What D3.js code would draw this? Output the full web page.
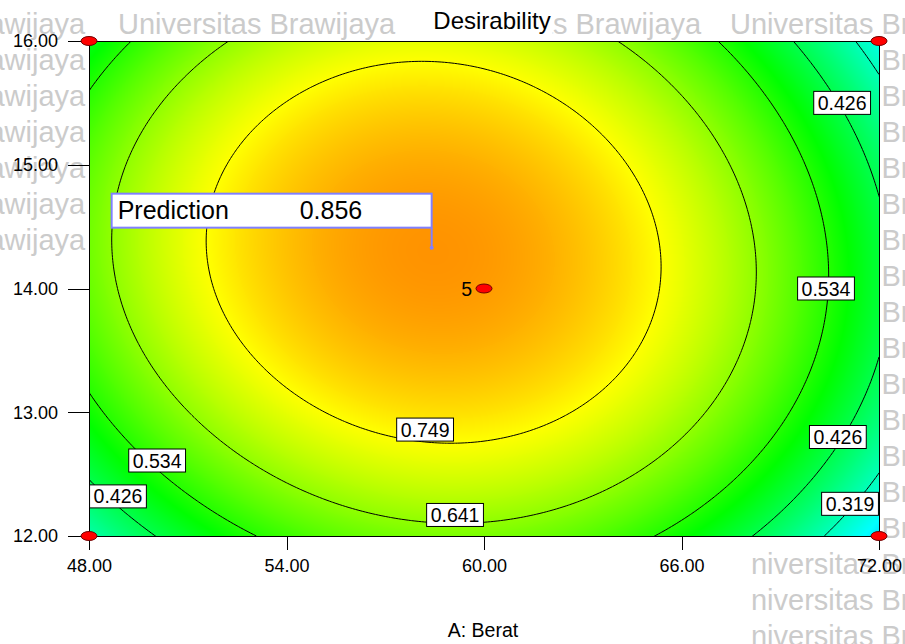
<!DOCTYPE html>
<html>
<head>
<meta charset="utf-8">
<script src="https://cdn.jsdelivr.net/npm/d3@7"></script>
<style>
  body { margin: 0; background: #ffffff; }
  #wrap { position: relative; width: 905px; height: 644px; overflow: hidden; }
  svg { position: absolute; left: 0; top: 0; }
</style>
</head>
<body>
<div id="wrap"></div>
<script>
// Overall desirability response surface, in coded factors
// A = (Berat - 60) / 12,  B = (factor B - 14) / 2
const modelTerms = ["1", "A", "B", "AB", "A2", "B2", "A2B2", "A3B", "AB3"];
const modelCoefs = [0.8474, -0.0776, 0.0487, -0.0388, -0.3234, -0.1798, -0.0188, 0.0083, 0.0083];

const contourLevels = [0.319, 0.426, 0.534, 0.641, 0.749];
const xTicks = [48, 54, 60, 66, 72];
const yTicks = [12, 13, 14, 15, 16];

// design points (Berat, B) and number of runs at each
const designX = [48, 48, 72, 72, 60];
const designY = [12, 16, 12, 16, 14];
const designRuns = [1, 1, 1, 1, 5];

// optimum flag
const predLabel = "Prediction";
const predX = 58.41, predY = 14.33, predValue = 0.856;

const titleText = "Desirability";
const xTitle = "A: Berat";
const watermarkText = "Universitas Brawijaya";

// where each contour label sits: [level index, Berat, B]
const labelSpots = [
  [1, 70.88, 15.50],
  [2, 70.39, 14.00],
  [1, 70.75, 12.80],
  [0, 71.12, 12.26],
  [2, 50.07, 12.61],
  [1, 48.88, 12.32],
  [4, 58.21, 12.86],
  [3, 59.12, 12.17]
];

const FONT = "'Liberation Sans', Arial, Helvetica, sans-serif";
const W = 905, H = 644;
const plot = { left: 89, top: 41, right: 879, bottom: 536 };

const xs = d3.scaleLinear().domain([48, 72]).range([plot.left, plot.right]);
const ys = d3.scaleLinear().domain([12, 16]).range([plot.bottom, plot.top]);
const color = d3.scaleLinear()
  .domain([0, 0.25, 0.5, 0.75, 1])
  .range(["#0000ff", "#00ffff", "#00ff00", "#ffff00", "#ff0000"])
  .clamp(true);

function desir(x, y) {
  const A = (x - 60) / 12, B = (y - 14) / 2;
  const basis = [1, A, B, A * B, A * A, B * B, A * A * B * B, A * A * A * B, A * B * B * B];
  let s = 0;
  for (let i = 0; i < basis.length; i++) s += basis[i] * modelCoefs[i];
  return s;
}

const svg = d3.select("#wrap").append("svg")
  .attr("width", W).attr("height", H)
  .style("font-family", FONT);

// ---- background watermark ----
const defs = svg.append("defs");
const wmClip = defs.append("clipPath").attr("id", "wmclip");
[[0, 0, W, 41], [0, 0, 89, 262], [879, 0, 26, H], [751, 545, 154, 99]].forEach(r => {
  wmClip.append("rect").attr("x", r[0]).attr("y", r[1]).attr("width", r[2]).attr("height", r[3]);
});
const wm = svg.append("g").attr("clip-path", "url(#wmclip)")
  .attr("fill", "#cbcbcb").attr("font-size", 29);
for (let row = 0; row < 18; row++) {
  for (let col = 0; col < 4; col++) {
    wm.append("text")
      .attr("x", (col === 0 ? -192 : -188) + col * 306)
      .attr("y", 34 + row * 36)
      .text(watermarkText);
  }
}

// ---- colour raster of the surface ----
const pw = plot.right - plot.left, ph = plot.bottom - plot.top;
const cv = document.createElement("canvas");
cv.width = pw; cv.height = ph;
const ctx = cv.getContext("2d");
const img = ctx.createImageData(pw, ph);
const lut = d3.range(1001).map(k => d3.rgb(color(k / 1000)));
for (let j = 0; j < ph; j++) {
  const yv = ys.invert(plot.top + j + 0.5);
  for (let i = 0; i < pw; i++) {
    const xv = xs.invert(plot.left + i + 0.5);
    const v = Math.max(0, Math.min(1, desir(xv, yv)));
    const c = lut[Math.round(v * 1000)];
    const o = (j * pw + i) * 4;
    img.data[o] = c.r; img.data[o + 1] = c.g; img.data[o + 2] = c.b; img.data[o + 3] = 255;
  }
}
ctx.putImageData(img, 0, 0);
svg.append("image")
  .attr("x", plot.left).attr("y", plot.top)
  .attr("width", pw).attr("height", ph)
  .attr("preserveAspectRatio", "none")
  .attr("href", cv.toDataURL());

// ---- contour lines ----
defs.append("clipPath").attr("id", "plotclip")
  .append("rect").attr("x", plot.left).attr("y", plot.top).attr("width", pw).attr("height", ph);

const nx = 241, ny = 161;
const vals = new Float64Array(nx * ny);
for (let j = 0; j < ny; j++) {
  for (let i = 0; i < nx; i++) {
    vals[j * nx + i] = desir(48 + i * 24 / (nx - 1), 12 + j * 4 / (ny - 1));
  }
}
const gx = c => 48 + (c - 0.5) * 24 / (nx - 1);
const gy = c => 12 + (c - 0.5) * 4 / (ny - 1);
const proj = d3.geoTransform({
  point(x, y) { this.stream.point(xs(gx(x)), ys(gy(y))); }
});
const contourPath = d3.geoPath(proj);
const contours = d3.contours().size([nx, ny]).thresholds(contourLevels)(vals);
svg.append("g").attr("clip-path", "url(#plotclip)")
  .selectAll("path").data(contours).join("path")
  .attr("d", contourPath)
  .attr("fill", "none")
  .attr("stroke", "#000")
  .attr("stroke-width", 1);

// ---- frame and axes ----
svg.append("rect")
  .attr("x", plot.left).attr("y", plot.top).attr("width", pw).attr("height", ph)
  .attr("fill", "none").attr("stroke", "#000").attr("stroke-width", 1)
  .attr("shape-rendering", "crispEdges");

const fmt = d3.format(".2f");
const yAxisG = svg.append("g").attr("transform", `translate(${plot.left},0)`)
  .call(d3.axisLeft(ys).tickValues(yTicks).tickFormat(fmt).tickSize(21).tickSizeOuter(0).tickPadding(10));
const xAxisG = svg.append("g").attr("transform", `translate(0,${plot.bottom})`)
  .call(d3.axisBottom(xs).tickValues(xTicks).tickFormat(fmt).tickSize(14).tickSizeOuter(0).tickPadding(9));
[yAxisG, xAxisG].forEach(g => {
  g.attr("font-family", FONT).attr("font-size", 18);
  g.selectAll("path.domain").attr("stroke", "#000").attr("shape-rendering", "crispEdges");
  g.selectAll(".tick line").attr("stroke", "#000").attr("shape-rendering", "crispEdges");
  g.selectAll(".tick text").attr("fill", "#000");
});

// ---- contour labels ----
const lab = svg.append("g").attr("font-size", 19.5);
labelSpots.forEach(([k, x, y]) => {
  const g = lab.append("g").attr("transform", `translate(${xs(x)},${ys(y)})`);
  const t = g.append("text")
    .attr("text-anchor", "middle").attr("y", 7).attr("fill", "#000")
    .text(contourLevels[k].toFixed(3));
  const w = t.node().getComputedTextLength();
  g.insert("rect", "text")
    .attr("x", -w / 2 - 4).attr("y", -11.5)
    .attr("width", w + 8).attr("height", 23)
    .attr("fill", "#fff").attr("stroke", "#000").attr("stroke-width", 1);
});

// ---- design points ----
const pts = svg.append("g");
designX.forEach((x, i) => {
  pts.append("ellipse")
    .attr("cx", xs(x)).attr("cy", ys(designY[i]))
    .attr("rx", 8).attr("ry", 4.5)
    .attr("fill", "#ff0000").attr("stroke", "#700000").attr("stroke-width", 1);
  if (designRuns[i] > 1) {
    pts.append("text")
      .attr("x", xs(x) - 12).attr("y", ys(designY[i]) + 7)
      .attr("text-anchor", "end").attr("font-size", 19.5).attr("fill", "#000")
      .text(designRuns[i]);
  }
});

// ---- prediction flag ----
const fx = xs(predX), fy = ys(predY);
const flag = svg.append("g");
flag.append("line")
  .attr("x1", fx).attr("x2", fx).attr("y1", fy - 20).attr("y2", fy)
  .attr("stroke", "#8080ff").attr("stroke-width", 2);
flag.append("circle").attr("cx", fx).attr("cy", fy).attr("r", 2).attr("fill", "#8080ff");
flag.append("rect")
  .attr("x", fx - 320).attr("y", fy - 54).attr("width", 320).attr("height", 34)
  .attr("fill", "#fff").attr("stroke", "#8080ff").attr("stroke-width", 2);
flag.append("text")
  .attr("x", fx - 314).attr("y", fy - 28.5).attr("font-size", 25).attr("fill", "#000")
  .text(predLabel);
flag.append("text")
  .attr("x", fx - 132).attr("y", fy - 28.5).attr("font-size", 25).attr("fill", "#000")
  .text(predValue.toFixed(3));

// ---- titles ----
const titleG = svg.append("g");
const title = titleG.append("text")
  .attr("x", 492).attr("y", 29).attr("text-anchor", "middle")
  .attr("font-size", 24).attr("fill", "#000")
  .text(titleText);
const tb = title.node().getBBox();
titleG.insert("rect", "text")
  .attr("x", 405).attr("y", 4).attr("width", tb.x + tb.width + 2 - 405).attr("height", 36)
  .attr("fill", "#fff");
svg.append("text")
  .attr("x", 483).attr("y", 637).attr("text-anchor", "middle")
  .attr("font-size", 19.5).attr("fill", "#000")
  .text(xTitle);
</script>
</body>
</html>
